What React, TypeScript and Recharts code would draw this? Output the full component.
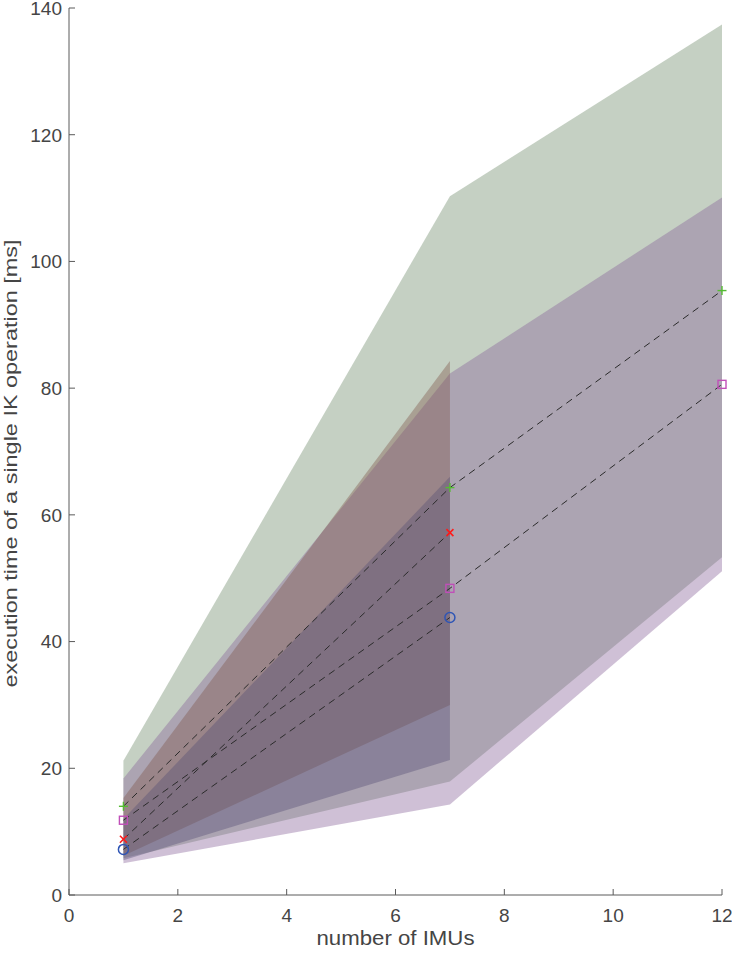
import { Area, ComposedChart, Label, Line, XAxis, YAxis } from 'recharts'

// number of IMUs on x
const imuCounts = [1, 7, 12]

// mean execution time per method [ms]
const greenMean = [14.0, 64.3, 95.4]
const purpleMean = [11.8, 48.4, 80.6]
const redMean = [8.8, 57.2]
const blueMean = [7.2, 43.8]

// spread bands (low / high)
const greenLow = [5.8, 17.9, 53.3]
const greenHigh = [21.2, 110.3, 137.4]
const purpleLow = [5.0, 14.3, 51.1]
const purpleHigh = [18.4, 82.3, 110.1]
const orangeLow = [6.2, 30.0]
const orangeHigh = [15.3, 84.3]
const blueLow = [5.5, 21.3]
const blueHigh = [12.0, 66.0]

const xTicks = [0, 2, 4, 6, 8, 10, 12]
const yTicks = [0, 20, 40, 60, 80, 100, 120, 140]

const axisColor = '#5a5a5a'
const textColor = '#454545'
const font = '"Liberation Sans", Arial, sans-serif'

const band = (lo: number[], hi: number[], i: number) =>
  lo[i] == null || hi[i] == null ? null : [lo[i], hi[i]]
const val = (arr: number[], i: number) => (arr[i] == null ? null : arr[i])

const data = imuCounts.map((x, i) => ({
  x,
  greenBand: band(greenLow, greenHigh, i),
  purpleBand: band(purpleLow, purpleHigh, i),
  orangeBand: band(orangeLow, orangeHigh, i),
  blueBand: band(blueLow, blueHigh, i),
  green: val(greenMean, i),
  purple: val(purpleMean, i),
  red: val(redMean, i),
  blue: val(blueMean, i),
}))

function XTick(props: any) {
  const { x, y, payload } = props
  return (
    <g>
      <line x1={x} x2={x} y1={y} y2={y - 6} stroke={axisColor} strokeWidth={1} />
      <text x={x} y={y + 27} textAnchor="middle" fill={textColor} fontSize={19} fontFamily={font}>
        {payload.value}
      </text>
    </g>
  )
}

function YTick(props: any) {
  const { x, y, payload } = props
  return (
    <g>
      <line x1={x} x2={x + 6} y1={y} y2={y} stroke={axisColor} strokeWidth={1} />
      <text x={x - 7} y={y} dy="0.36em" textAnchor="end" fill={textColor} fontSize={19} fontFamily={font}>
        {payload.value}
      </text>
    </g>
  )
}

const marker = (kind: string) => (props: any) => {
  const { cx, cy, index } = props
  const key = `${kind}-${index}`
  if (cx == null || cy == null) return <g key={key} />
  const s = 4.5
  if (kind === 'plus')
    return (
      <g key={key} stroke="#55bb33" strokeWidth={1.4}>
        <line x1={cx - s} x2={cx + s} y1={cy} y2={cy} />
        <line x1={cx} x2={cx} y1={cy - s} y2={cy + s} />
      </g>
    )
  if (kind === 'square')
    return (
      <rect key={key} x={cx - 4} y={cy - 4} width={8} height={8}
        fill="none" stroke="#c04fb8" strokeWidth={1.4} />
    )
  if (kind === 'cross')
    return (
      <g key={key} stroke="#ff1a1a" strokeWidth={1.6}>
        <line x1={cx - 3.5} x2={cx + 3.5} y1={cy - 3.5} y2={cy + 3.5} />
        <line x1={cx - 3.5} x2={cx + 3.5} y1={cy + 3.5} y2={cy - 3.5} />
      </g>
    )
  return <circle key={key} cx={cx} cy={cy} r={5} fill="none" stroke="#2f55b5" strokeWidth={1.5} />
}

const bands = [
  { key: 'greenBand', fill: 'rgb(110,138,105)' },
  { key: 'purpleBand', fill: 'rgb(135,98,153)' },
  { key: 'orangeBand', fill: 'rgb(127,88,75)' },
  { key: 'blueBand', fill: 'rgb(87,81,117)' },
]

const lines = [
  { key: 'green', kind: 'plus' },
  { key: 'purple', kind: 'square' },
  { key: 'red', kind: 'cross' },
  { key: 'blue', kind: 'circle' },
]

export default function App() {
  return (
    <div style={{ position: 'absolute', left: 0, top: 0, background: '#fff' }}>
      <ComposedChart
        width={732}
        height={953}
        data={data}
        margin={{ top: 8, right: 10, bottom: 0, left: 0 }}
      >
        <XAxis
          type="number"
          dataKey="x"
          domain={[0, 12]}
          ticks={xTicks}
          height={58}
          tickSize={0}
          tickMargin={0}
          tickLine={false}
          stroke={axisColor}
          tick={<XTick />}
          interval={0}
        >
          <Label
            content={(p: any) => {
              const vb = p.viewBox
              return (
                <text
                  x={vb.x + vb.width / 2}
                  y={vb.y + vb.height - 8}
                  textAnchor="middle"
                  fill={textColor}
                  fontSize={20}
                  fontFamily={font}
                  textLength={158}
                  lengthAdjust="spacingAndGlyphs"
                >
                  number of IMUs
                </text>
              )
            }}
          />
        </XAxis>
        <YAxis
          type="number"
          domain={[0, 140]}
          ticks={yTicks}
          width={69}
          tickSize={0}
          tickMargin={0}
          tickLine={false}
          stroke={axisColor}
          tick={<YTick />}
          interval={0}
        >
          <Label
            content={(p: any) => {
              const vb = p.viewBox
              const cx = vb.x + 17
              const cy = vb.y + vb.height / 2 + 12
              return (
                <text
                  x={cx}
                  y={cy}
                  transform={`rotate(-90 ${cx} ${cy})`}
                  textAnchor="middle"
                  fill={textColor}
                  fontSize={19}
                  fontFamily={font}
                  textLength={448}
                  lengthAdjust="spacingAndGlyphs"
                >
                  execution time of a single IK operation [ms]
                </text>
              )
            }}
          />
        </YAxis>
        {bands.map((b) => (
          <Area
            key={b.key}
            type="linear"
            dataKey={b.key}
            stroke="none"
            fill={b.fill}
            fillOpacity={0.4}
            dot={false}
            activeDot={false}
            isAnimationActive={false}
          />
        ))}
        {lines.map((l) => (
          <Line
            key={l.key}
            type="linear"
            dataKey={l.key}
            stroke="#2b2b2b"
            strokeWidth={1}
            strokeDasharray="7 5"
            dot={marker(l.kind)}
            activeDot={false}
            isAnimationActive={false}
          />
        ))}
      </ComposedChart>
    </div>
  )
}
